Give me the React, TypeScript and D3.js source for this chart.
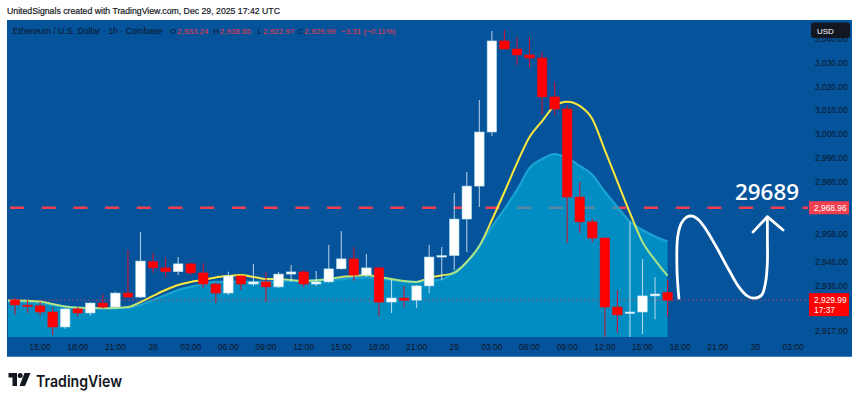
import React from 'react';
import * as d3 from 'd3';

// hourly ETH/USD candles, Dec 27 13:00 -> Dec 29 17:00 (UTC)
const openP = [
  2930.1, 2927.9, 2927.6, 2925.0, 2918.7, 2926.3, 2924.6, 2928.8, 2927.1, 2933.0,
  2931.3, 2946.2, 2943.6, 2942.0, 2945.3, 2941.5, 2936.8, 2933.0, 2940.2, 2936.8,
  2937.7, 2935.6, 2941.0, 2941.9, 2936.8, 2937.7, 2943.2, 2947.4, 2940.6, 2943.6,
  2929.2, 2930.9, 2930.0, 2936.0, 2948.2, 2948.8, 2964.2, 2978.1, 3000.9, 3039.3,
  3035.9, 3033.4, 3032.1, 3015.7, 3010.6, 2973.5, 2963.0, 2956.2, 2927.1, 2924.6,
  2925.0, 2931.8, 2933.24,
];
const highP = [
  2931.0, 2930.0, 2929.3, 2927.0, 2926.5, 2927.0, 2929.0, 2932.6, 2933.5, 2951.2,
  2958.8, 2950.0, 2948.0, 2948.2, 2945.7, 2945.7, 2937.5, 2942.0, 2940.5, 2945.3,
  2941.9, 2941.9, 2944.8, 2942.7, 2942.3, 2953.3, 2959.2, 2952.4, 2949.5, 2944.0,
  2938.5, 2936.0, 2936.4, 2953.3, 2952.4, 2975.2, 2984.0, 3014.4, 3043.5, 3043.9,
  3041.0, 3041.0, 3034.6, 3022.0, 3012.3, 2979.8, 2964.2, 2956.6, 2934.3, 2963.0,
  2947.4, 2939.8, 2938.65,
];
const lowP = [
  2923.8, 2924.6, 2923.3, 2915.3, 2918.0, 2923.0, 2923.4, 2926.5, 2926.8, 2931.0,
  2930.9, 2941.5, 2939.8, 2940.6, 2940.6, 2935.0, 2928.8, 2932.2, 2934.3, 2936.0,
  2929.2, 2935.1, 2937.7, 2935.6, 2936.0, 2937.3, 2943.0, 2938.1, 2939.8, 2923.3,
  2924.6, 2927.0, 2926.7, 2933.0, 2938.5, 2942.7, 2950.3, 2969.3, 2999.2, 3035.9,
  3029.2, 3027.9, 3008.0, 3008.0, 2954.1, 2958.3, 2954.5, 2914.5, 2916.2, 2914.5,
  2915.7, 2922.0, 2922.97,
];
const closeP = [
  2928.0, 2927.6, 2925.0, 2918.7, 2926.3, 2924.6, 2928.8, 2927.1, 2933.0, 2931.3,
  2946.5, 2943.6, 2942.0, 2945.3, 2941.5, 2936.8, 2933.0, 2940.2, 2936.8, 2937.7,
  2935.6, 2941.0, 2941.9, 2936.8, 2937.7, 2943.2, 2947.4, 2940.6, 2943.6, 2929.2,
  2930.9, 2930.0, 2936.0, 2948.2, 2948.8, 2964.2, 2978.1, 3000.9, 3039.3, 3035.9,
  3033.4, 3032.1, 3015.7, 3010.6, 2973.5, 2963.0, 2956.2, 2927.1, 2923.8, 2925.0,
  2931.8, 2932.6, 2929.99,
];
// fast average (yellow line)
const fastMa = [
  2929.9, 2929.8, 2929.4, 2928.4, 2927.3, 2926.8, 2926.7, 2926.6, 2926.7, 2927.1,
  2929.2, 2931.8, 2934.3, 2936.4, 2937.7, 2938.5, 2939.6, 2940.2, 2940.6, 2939.8,
  2938.9, 2938.9, 2938.5, 2938.1, 2938.3, 2938.9, 2939.8, 2940.2, 2940.6, 2939.8,
  2938.9, 2938.1, 2937.7, 2939.4, 2940.4, 2941.5, 2946.2, 2952.8, 2963.8, 2975.6,
  2987.8, 2998.8, 3005.5, 3011.9, 3013.7, 3011.9, 3006.4, 2993.3, 2980.0, 2966.8,
  2954.5, 2946.9, 2940.3,
];
// slow average (filled area)
const slowMa = [
  2929.5, 2929.2, 2928.8, 2928.0, 2927.3, 2926.9, 2926.7, 2926.6, 2926.6, 2926.7,
  2928.0, 2930.1, 2932.2, 2934.3, 2935.6, 2936.8, 2937.7, 2937.7, 2937.7, 2937.7,
  2937.7, 2937.9, 2938.1, 2938.3, 2938.5, 2938.7, 2938.9, 2939.4, 2939.6, 2939.4,
  2938.5, 2937.9, 2937.7, 2938.1, 2938.7, 2941.9, 2945.7, 2952.8, 2960.9, 2968.4,
  2976.5, 2985.7, 2989.5, 2991.6, 2989.9, 2986.6, 2982.9, 2975.7, 2969.3, 2963.1,
  2959.6, 2956.8, 2954.7,
];
const priceTicks = [3040, 3030, 3020, 3010, 3000, 2990, 2980, 2958, 2946, 2936, 2917];
const timeTickLabels = [
  '15:00', '18:00', '21:00', '28', '03:00', '06:00', '09:00', '12:00', '15:00', '18:00', '21:00',
  '29', '03:00', '06:00', '09:00', '12:00', '15:00', '18:00', '21:00', '30', '03:00',
];
const legendOhlc = [
  { key: 'O', value: '2,933.24', x: 170 },
  { key: 'H', value: '2,938.65', x: 213 },
  { key: 'L', value: '2,922.97', x: 257.5 },
  { key: 'C', value: '2,929.99', x: 297.5 },
];
const lastClose = 2929.99;
const targetLevel = 2968.96;
const targetText = '29689';
// hand drawn projection: [bar offset, price]
const scribble: [number, number][] = [
  [52.9, 2930.9], [52.75, 2942.5], [52.8, 2956.6], [53.1, 2962.5], [53.5, 2965.0],
  [54.0, 2965.4], [54.5, 2963.7], [55.1, 2959.5], [55.9, 2952.3], [56.9, 2942.6],
  [57.7, 2935.4], [58.4, 2931.6], [58.95, 2930.9], [59.5, 2932.2], [59.8, 2937.3],
  [59.95, 2945.7], [59.95, 2956.6], [59.95, 2965.0],
];
const arrowHead: [number, number][] = [[58.8, 2958.7], [59.95, 2965.2], [61.2, 2959.6]];

const start = Date.UTC(2025, 11, 27, 13);
const HOUR = 3600000;
const FONT = "'Liberation Sans', Arial, sans-serif";
const BG = '#05539b';
const AXIS_TEXT = '#0c1626';
const RED_TEXT = '#f23645';

const plot = { left: 8, right: 808, top: 41, bottom: 338 };

export default function App() {
  const t = (i: number) => new Date(start + i * HOUR);
  const x = d3.scaleUtc().domain([t(0), t(62)]).range([15, 793.1]);
  const y = d3.scaleLinear().domain([2917, 3030]).range([331, 63]);
  const bx = (i: number) => x(t(i));
  const bw = 9.5;

  const area = d3.area<number>()
    .x((d, i) => (i === 0 ? plot.left : bx(i - 1)))
    .y0(plot.bottom - 1)
    .y1((d) => y(d))
    .curve(d3.curveMonotoneX);
  const line = d3.line<number>()
    .x((d, i) => (i === 0 ? plot.left : bx(i - 1)))
    .y((d) => y(d))
    .curve(d3.curveMonotoneX);
  const slowPts = [slowMa[0], ...slowMa];
  const fastPts = [fastMa[0], ...fastMa];

  // fast line turns yellow when above the slow average, green when under it
  const yellow = d3.interpolateRgb('#a9e38c', '#fce83a');
  const xMin = plot.left;
  const xMax = bx(fastMa.length - 1);
  const stops = fastMa.map((v, i) => {
    const k = Math.max(0, Math.min(1, (v - slowMa[i] - 0.2) / 1.6));
    return { off: (bx(i) - xMin) / (xMax - xMin), color: yellow(k) };
  });

  const scribbleLine = d3.line<[number, number]>()
    .x((d) => bx(d[0]))
    .y((d) => y(d[1]))
    .curve(d3.curveCatmullRom.alpha(0.5));
  const arrowLine = d3.line<[number, number]>().x((d) => bx(d[0])).y((d) => y(d[1]));

  const timeTicks = timeTickLabels.map((_, k) => t(2 + k * 3));
  const fmt = d3.format(',.2f');

  return (
    <svg width={860} height={401} style={{ position: 'absolute', left: 0, top: 0, background: '#fff' }} fontFamily={FONT}>
      <defs>
        <linearGradient id="fastGrad" gradientUnits="userSpaceOnUse" x1={xMin} x2={xMax} y1={0} y2={0}>
          {stops.map((s, i) => <stop key={i} offset={s.off} stopColor={s.color} />)}
        </linearGradient>
        <clipPath id="plotClip">
          <rect x={plot.left} y={plot.top - 20} width={plot.right - plot.left} height={plot.bottom - plot.top + 20} />
        </clipPath>
      </defs>

      <text x={7} y={14} fontSize={9} fill="#131722" stroke="#131722" strokeWidth={0.2}
        textLength={273} lengthAdjust="spacingAndGlyphs">
        UnitedSignals created with TradingView.com, Dec 29, 2025 17:42 UTC
      </text>

      <rect x={7} y={20} width={845} height={336} fill={BG} />
      <line x1={7} x2={852} y1={356.5} y2={356.5} stroke="#3f7fb8" strokeWidth={1} />

      {/* legend */}
      <text x={12.7} y={33.5} fontSize={8.6} fill={AXIS_TEXT} textLength={150} lengthAdjust="spacingAndGlyphs">
        Ethereum / U.S. Dollar · 1h · Coinbase
      </text>
      {legendOhlc.map((d) => (
        <text key={d.key} x={d.x} y={33.5} fontSize={8}>
          <tspan fill={AXIS_TEXT}>{d.key}</tspan>
          <tspan fill={RED_TEXT} dx={1}>{d.value}</tspan>
        </text>
      ))}
      <text x={341} y={33.5} fontSize={8} fill={RED_TEXT}>−3.31 (−0.11%)</text>

      <g clipPath="url(#plotClip)">
        <line x1={plot.left} x2={plot.right} y1={y(targetLevel)} y2={y(targetLevel)}
          stroke="#f0404f" strokeWidth={2.6} strokeDasharray="14 17.7" strokeDashoffset={-2} />
        <path d={area(slowPts) || ''} fill="#00b4dc" fillOpacity={0.6} />
        <path d={line(slowPts) || ''} fill="none" stroke="#1aa3d0" strokeWidth={2.2} />
        <line x1={plot.left} x2={plot.right} y1={y(lastClose)} y2={y(lastClose)}
          stroke="#e0405a" strokeOpacity={0.8} strokeWidth={0.8} strokeDasharray="2 2" />
        <path d={line(fastPts) || ''} fill="none" stroke="url(#fastGrad)" strokeWidth={2} />

        {closeP.map((c, i) => {
          const o = openP[i];
          const up = c >= o;
          const cx = bx(i);
          const top = y(Math.max(o, c));
          const h = Math.max(1.5, Math.abs(y(o) - y(c)));
          return (
            <g key={i}>
              <line x1={cx} x2={cx} y1={y(highP[i])} y2={y(lowP[i])}
                stroke={up ? 'rgba(225,238,250,0.75)' : '#c4173a'} strokeWidth={1.1} />
              <rect x={cx - bw / 2} y={top} width={bw} height={h}
                fill={up ? '#ffffff' : '#ff0000'} stroke={up ? '#a8dbe6' : '#e0101c'} strokeWidth={0.6} />
            </g>
          );
        })}
      </g>

      {/* projection */}
      <path d={scribbleLine(scribble) || ''} fill="none" stroke="#ffffff" strokeWidth={2.8} strokeLinecap="round" strokeLinejoin="round" />
      <path d={arrowLine(arrowHead) || ''} fill="none" stroke="#ffffff" strokeWidth={2.8} strokeLinecap="round" strokeLinejoin="round" />
      <text x={767} y={200} fontSize={21} fill="#ffffff" textAnchor="middle" fontFamily="'Open Sans', 'DejaVu Sans', sans-serif"
        fontWeight={600} textLength={64} lengthAdjust="spacingAndGlyphs">{targetText}</text>

      {/* price scale */}
      {priceTicks.map((p) => (
        <text key={p} x={815} y={y(p) + 3} fontSize={8.4} fill={AXIS_TEXT}>{fmt(p)}</text>
      ))}
      <rect x={811} y={22.5} width={39} height={15.5} rx={2.5} fill="#131722" />
      <text x={817} y={34} fontSize={8} fill="#ffffff">USD</text>

      <rect x={809} y={y(targetLevel) - 6.5} width={40} height={13} fill="#f23f4f" />
      <text x={814} y={y(targetLevel) + 3} fontSize={8.4} fill="#ffffff">{fmt(targetLevel)}</text>
      <rect x={809} y={y(lastClose) - 7} width={40} height={23} fill="#ff0000" />
      <text x={814} y={y(lastClose) + 3} fontSize={8.4} fill="#ffffff">{fmt(lastClose)}</text>
      <text x={814} y={y(lastClose) + 13} fontSize={8.4} fill="#ffffff">17:37</text>

      {/* time scale */}
      {timeTicks.map((d, k) => (
        <text key={k} x={x(d)} y={350} fontSize={8.4} fill={AXIS_TEXT} textAnchor="middle">{timeTickLabels[k]}</text>
      ))}

      {/* logo */}
      <g fill="#131722">
        <path d="M8.5 373 H17 V386 H12.5 V377.5 H8.5 Z" />
        <circle cx={20.2} cy={375.6} r={2.5} />
        <path d="M24.5 373 H30.5 L25 386 H19.5 Z" />
      </g>
      <text x={36} y={386.5} fontSize={16} fontWeight={600} fill="#131722" fontFamily="Inter, 'Noto Sans', sans-serif"
        textLength={86} lengthAdjust="spacingAndGlyphs">TradingView</text>
    </svg>
  );
}
